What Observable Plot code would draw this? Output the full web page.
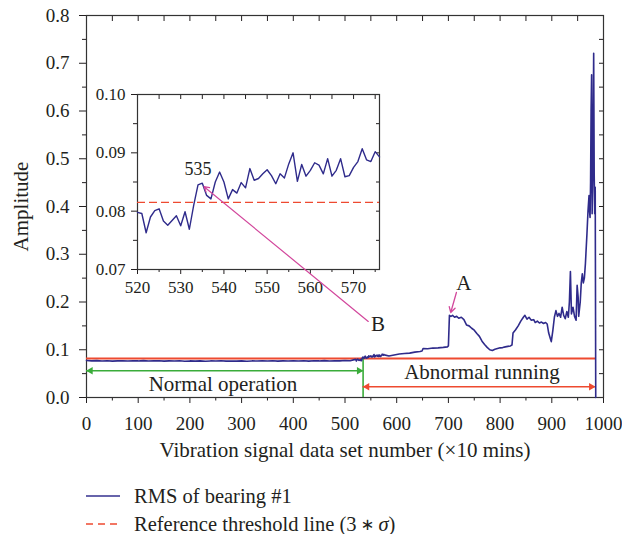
<!DOCTYPE html>
<html>
<head>
<meta charset="utf-8">
<script src="https://cdn.jsdelivr.net/npm/d3@7"></script>
<script src="https://cdn.jsdelivr.net/npm/@observablehq/plot@0.6"></script>
<style>
  html, body { margin: 0; padding: 0; background: #fff; }
  #wrap { position: relative; width: 622px; height: 534px; font-family: "Liberation Serif", serif; color: #231f20; }
  #inset { position: absolute; left: 92px; top: 84px; }
  .leg { position: absolute; left: 86px; height: 26px; display: flex; align-items: center; font-size: 20.5px; white-space: nowrap; }
  .leg svg { margin-right: 14px; }
  .ast { font-family: "DejaVu Sans", sans-serif; font-size: 0.8em; margin: 0 0.25em; }
</style>
</head>
<body>
<div id="wrap">
  <div id="main"></div>
  <div id="inset"></div>
  <div class="leg" style="top:483px"><svg width="34" height="4"><line x1="0" x2="34" y1="2" y2="2" stroke="#35318f" stroke-width="1.6"/></svg>RMS of bearing #1</div>
  <div class="leg" style="top:511px"><svg width="34" height="4"><line x1="0" x2="34" y1="2" y2="2" stroke="#ee4a30" stroke-width="1.6" stroke-dasharray="7,5"/></svg>Reference threshold line (3<span class="ast">∗</span><i>σ</i>)</div>
</div>
<script>
// ---- data ----
const setNumber = [
  0,10,20,30,40,50,60,70,80,90,100,110,120,130,140,150,160,170,180,190,
  200,210,220,230,240,250,260,270,280,290,300,310,320,330,340,350,360,370,380,390,
  400,410,420,430,440,450,460,470,480,490,500,510,
  520,521,522,523,524,525,526,527,528,529,530,531,532,533,534,535,536,537,538,539,
  540,541,542,543,544,545,546,547,548,549,550,551,552,553,554,555,556,557,558,559,
  560,561,562,563,564,565,566,567,568,569,570,571,572,573,574,575,576,
  585,595,605,615,625,635,645,649,651,660,670,680,690,698,700,702,705,708,712,716,
  720,725,730,735,740,745,750,755,760,765,770,775,780,785,790,795,800,805,810,815,
  820,823,825,830,835,840,845,848,852,856,860,865,868,872,876,880,884,888,891,894,
  897,899,902,905,908,911,914,917,920,923,926,929,932,934,936,938,941,944,947,949,
  951,952,955,957,959,961,963,965,966,968,970,972,973,974,975,976,977,978,979,980,
  981,982,983,984,985
];
const rms = [
  0.0775,0.0768,0.0772,0.0765,0.0770,0.0762,0.0768,0.0771,0.0764,0.0769,0.0766,0.0772,0.0763,0.0768,0.0770,0.0761,0.0767,0.0764,0.0770,0.0758,
  0.0766,0.0762,0.0768,0.0760,0.0766,0.0763,0.0769,0.0761,0.0765,0.0762,0.0768,0.0760,0.0766,0.0763,0.0769,0.0764,0.0770,0.0762,0.0767,0.0765,
  0.0771,0.0764,0.0769,0.0762,0.0770,0.0766,0.0772,0.0765,0.0771,0.0768,0.0774,0.0770,
  0.0798,0.0796,0.0763,0.0790,0.0801,0.0804,0.0783,0.0776,0.0784,0.0792,0.0775,0.0799,0.0769,0.0810,0.0845,0.0848,0.0827,0.0821,0.0850,0.0867,
  0.0850,0.0821,0.0837,0.0831,0.0849,0.0840,0.0873,0.0853,0.0856,0.0864,0.0871,0.0861,0.0847,0.0864,0.0857,0.0881,0.0900,0.0851,0.0880,0.0860,
  0.0870,0.0883,0.0879,0.0864,0.0890,0.0860,0.0870,0.0890,0.0859,0.0861,0.0875,0.0885,0.0907,0.0888,0.0885,0.0902,0.0893,
  0.0870,0.0890,0.0910,0.0920,0.0930,0.0950,0.0965,0.0975,0.1025,0.1020,0.1035,0.1040,0.1050,0.1060,0.1080,0.1720,0.1700,0.1720,0.1680,0.1700,
  0.1660,0.1680,0.1630,0.1520,0.1500,0.1450,0.1410,0.1340,0.1280,0.1180,0.1110,0.1050,0.1000,0.0985,0.1010,0.1025,0.1040,0.1045,0.1060,0.1070,
  0.1080,0.1100,0.1350,0.1420,0.1500,0.1600,0.1680,0.1720,0.1640,0.1680,0.1620,0.1630,0.1570,0.1600,0.1560,0.1580,0.1550,0.1570,0.1540,0.1350,
  0.1240,0.1170,0.1400,0.1680,0.1820,0.1700,0.1760,0.1680,0.1890,0.1720,0.1650,0.1800,0.1680,0.2000,0.2640,0.1750,0.1890,0.1700,0.1620,0.2350,
  0.2100,0.1700,0.2000,0.2400,0.2590,0.2400,0.2500,0.2800,0.3010,0.3430,0.3900,0.4230,0.3900,0.3770,0.4500,0.6000,0.6760,0.3850,0.4500,0.5600,
  0.7210,0.4680,0.3850,0.4400,0
];
const threshold = 0.0815;
const xMajor = [0,100,200,300,400,500,600,700,800,900,1000];
const xMinor = [50,150,250,350,450,550,650,750,850,950];
const yMajor = [0,0.1,0.2,0.3,0.4,0.5,0.6,0.7,0.8];
const yMinor = [0.05,0.15,0.25,0.35,0.45,0.55,0.65,0.75];
const insetXMajor = [520,530,540,550,560,570];
const insetXMinor = [525,535,545,555,565,575];
const insetYMajor = [0.07,0.08,0.09,0.10];
const insetYMinor = [0.075,0.085,0.095];
const xLabel = "Vibration signal data set number (×10 mins)";
const yLabel = "Amplitude";
const normalStart = 0, changePoint = 535;
const normalArrowY = 0.056, abnormalArrowY = 0.0224;
const labels = [
  {text: "Normal operation", x: 264, y: 0.0275},
  {text: "Abnormal running", x: 765, y: 0.052},
  {text: "A", x: 730, y: 0.239},
  {text: "B", x: 564, y: 0.154}
];
const arrowA = {x1: 715.5, y1: 0.220, x2: 704.5, y2: 0.178};
const arrowB = {x1: 573.4, y1: 0.0611, x2: 535.4, y2: 0.0842};
const label535 = {text: "535", x: 534, y: 0.0872};

// ---- build ----
const series = setNumber.map((x, i) => ({x, y: rms[i]}));
const lastSet = setNumber[setNumber.length - 1];
const insetSeries = series.filter(d => d.x >= 520 && d.x <= 576);

const FONT = "Liberation Serif, serif";
const BLUE = "#2f2b8b", RED = "#ee4a30", GREEN = "#3aac3a", MAG = "#d2479c", INK = "#231f20";
const blank = () => "";

const main = Plot.plot({
  width: 622, height: 475,
  marginLeft: 86, marginRight: 19, marginTop: 15, marginBottom: 78,
  style: {fontFamily: FONT, background: "white", color: INK},
  x: {domain: [0, 1000]},
  y: {domain: [0, 0.8]},
  marks: [
    Plot.axisX(xMajor, {tickSize: 6, tickPadding: 13, fontSize: 19, fontFamily: FONT, fontVariant: "normal", label: null, tickFormat: d3.format("d")}),
    Plot.axisX(xMinor, {tickSize: 3.5, tickFormat: blank, label: null}),
    Plot.axisX([...xMajor, ...xMinor], {anchor: "top", tickSize: -5, tickFormat: blank, label: null}),
    Plot.axisY(yMajor, {tickSize: 7, tickPadding: 10, fontSize: 19, fontFamily: FONT, fontVariant: "normal", tickFormat: d3.format(".1f"), label: null}),
    Plot.axisY(yMinor, {tickSize: 4, tickFormat: blank, label: null}),
    Plot.axisY([...yMajor, ...yMinor], {anchor: "right", tickSize: -5, tickFormat: blank, label: null}),
    Plot.frame({stroke: "#333", strokeWidth: 1.2}),
    Plot.ruleY([threshold], {x1: 0, x2: lastSet, stroke: RED, strokeWidth: 2}),
    Plot.ruleX([changePoint], {y1: 0, y2: threshold, stroke: GREEN, strokeWidth: 1.6}),
    Plot.ruleY([normalArrowY], {x1: normalStart, x2: changePoint, stroke: GREEN, strokeWidth: 1.5}),
    Plot.dot([normalStart], {x: d => d, y: normalArrowY, symbol: "triangle2", r: 3.6, rotate: -90, fill: GREEN, dx: 4}),
    Plot.dot([changePoint], {x: d => d, y: normalArrowY, symbol: "triangle2", r: 3.6, rotate: 90, fill: GREEN, dx: -4}),
    Plot.ruleY([abnormalArrowY], {x1: changePoint, x2: lastSet - 1, stroke: RED, strokeWidth: 1.5}),
    Plot.dot([changePoint], {x: d => d, y: abnormalArrowY, symbol: "triangle2", r: 3.6, rotate: -90, fill: RED, dx: 4}),
    Plot.dot([lastSet - 1], {x: d => d, y: abnormalArrowY, symbol: "triangle2", r: 3.6, rotate: 90, fill: RED, dx: -4}),
    Plot.line(series, {x: "x", y: "y", stroke: BLUE, strokeWidth: 1.6}),
    Plot.arrow([arrowA], {x1: "x1", y1: "y1", x2: "x2", y2: "y2", stroke: MAG, strokeWidth: 1.3, headLength: 7}),
    Plot.text(labels, {x: "x", y: "y", text: "text", fontSize: 21, fontFamily: FONT, fill: INK}),
    Plot.text([xLabel], {frameAnchor: "bottom", lineAnchor: "middle", textAnchor: "middle", dy: 53, fontSize: 21, fontFamily: FONT, fill: INK}),
    Plot.text([yLabel], {frameAnchor: "left", textAnchor: "middle", lineAnchor: "middle", dx: -65, rotate: -90, fontSize: 21, fontFamily: FONT, fill: INK})
  ]
});
document.getElementById("main").appendChild(main);

const inset = Plot.plot({
  width: 292, height: 215,
  marginLeft: 45, marginRight: 5, marginTop: 10, marginBottom: 30,
  style: {fontFamily: FONT, background: "transparent", color: INK, overflow: "visible"},
  x: {domain: [520, 576]},
  y: {domain: [0.07, 0.10]},
  marks: [
    Plot.axisX(insetXMajor, {tickSize: 5, tickPadding: 6, fontSize: 17, fontFamily: FONT, fontVariant: "normal", label: null, tickFormat: d3.format("d")}),
    Plot.axisX(insetXMinor, {tickSize: 3, tickFormat: blank, label: null}),
    Plot.axisX([...insetXMajor, ...insetXMinor], {anchor: "top", tickSize: -4, tickFormat: blank, label: null}),
    Plot.axisY(insetYMajor, {tickSize: 6, tickPadding: 6, fontSize: 17, fontFamily: FONT, fontVariant: "normal", tickFormat: d3.format(".2f"), label: null}),
    Plot.axisY(insetYMinor, {tickSize: 4, tickFormat: blank, label: null}),
    Plot.axisY([...insetYMajor, ...insetYMinor], {anchor: "right", tickSize: -4, tickFormat: blank, label: null}),
    Plot.frame({stroke: "#333", strokeWidth: 1.2}),
    Plot.ruleY([threshold], {stroke: RED, strokeWidth: 1.4, strokeDasharray: "8,4"}),
    Plot.line(insetSeries, {x: "x", y: "y", stroke: BLUE, strokeWidth: 1.4}),
    Plot.text([label535], {x: "x", y: "y", text: "text", fontSize: 18, fontFamily: FONT, fill: INK}),
    Plot.arrow([arrowB], {x1: "x1", y1: "y1", x2: "x2", y2: "y2", stroke: MAG, strokeWidth: 1.2, headLength: 7})
  ]
});
inset.style.overflow = "visible";
document.getElementById("inset").appendChild(inset);
</script>
</body>
</html>
